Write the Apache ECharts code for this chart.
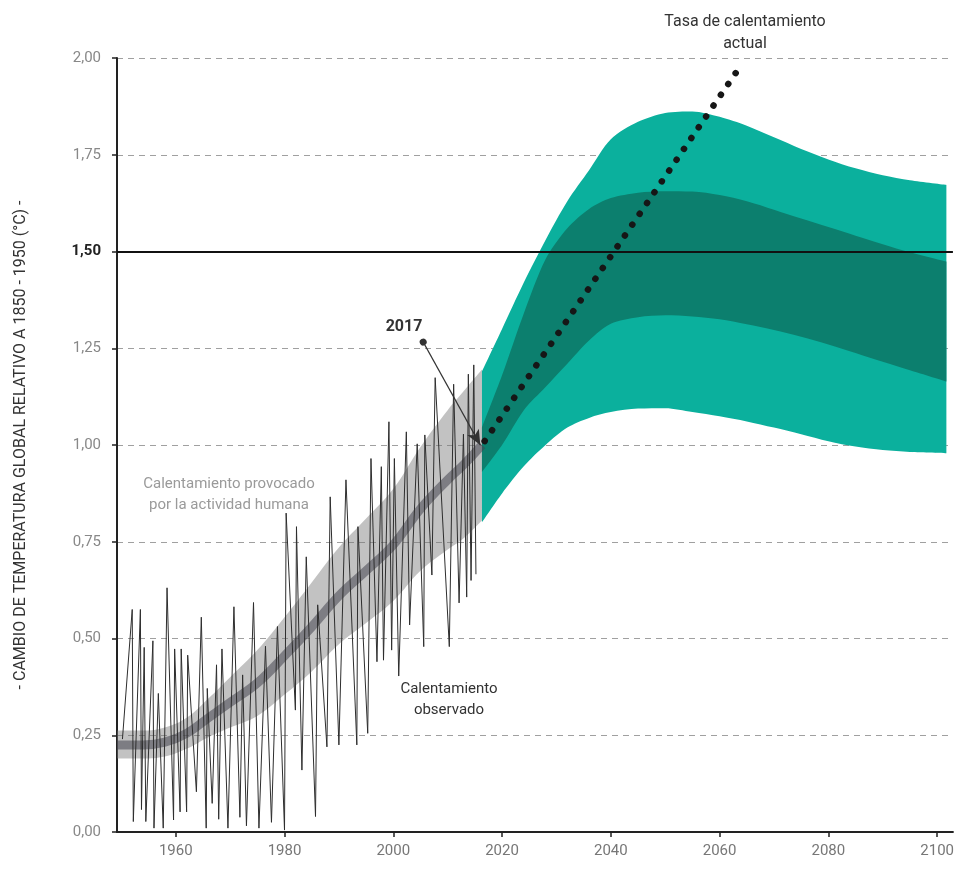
<!DOCTYPE html>
<html>
<head>
<meta charset="utf-8">
<script src="https://cdn.jsdelivr.net/npm/echarts@6/dist/echarts.min.js"></script>
<style>
html,body{margin:0;padding:0;background:#fff;}
#chart{width:957px;height:869px;}
</style>
</head>
<body>
<div id="chart"></div>
<script>
// ---- Data ----
const xTickValues = [1960, 1980, 2000, 2020, 2040, 2060, 2080, 2100];

// Observed warming (zig-zag vertices)
const obsYears = [1950.2,1952.0,1952.2,1953.5,1953.7,1954.2,1954.5,1955.8,1956.0,1956.8,1957.7,1958.4,1959.6,1959.8,1960.8,1961.0,1962.0,1962.2,1963.8,1964.7,1965.6,1965.8,1966.7,1967.5,1967.9,1968.5,1969.6,1970.7,1971.8,1972.3,1973.0,1974.3,1975.3,1976.5,1977.6,1978.7,1980.0,1980.3,1982.0,1982.2,1983.2,1984.0,1985.7,1986.1,1987.8,1988.4,1990.0,1991.3,1993.3,1993.5,1995.3,1995.9,1997.0,1997.8,1998.2,1999.2,1999.7,2000.2,2001.0,2002.4,2003.0,2004.4,2005.6,2005.8,2007.1,2007.7,2010.3,2011.1,2012.1,2012.9,2013.5,2013.8,2014.3,2014.8,2015.2];
const obsValues = [0.24,0.575,0.027,0.575,0.058,0.477,0.027,0.494,0.01,0.358,0.01,0.631,0.031,0.473,0.052,0.473,0.052,0.457,0.104,0.555,0.01,0.371,0.074,0.432,0.033,0.473,0.01,0.582,0.038,0.406,0.016,0.593,0.01,0.48,0.025,0.531,0.005,0.824,0.315,0.789,0.16,0.711,0.04,0.587,0.22,0.866,0.225,0.91,0.225,0.789,0.255,0.965,0.44,0.944,0.444,1.06,0.47,0.965,0.403,1.034,0.535,1.003,0.479,1.026,0.664,1.174,0.479,1.157,0.592,1.028,0.607,1.183,0.65,1.207,0.666];

// Human-induced warming band
const humanYears = [1949.2,1954,1958,1962,1966,1970,1975,1980,1985,1990,1995,2000,2005,2010,2013,2016.3];
const humanMid   = [0.225,0.225,0.232,0.255,0.295,0.335,0.385,0.455,0.53,0.61,0.675,0.742,0.835,0.91,0.95,1.0];
const humanHigh  = [0.262,0.262,0.27,0.295,0.345,0.40,0.47,0.555,0.645,0.735,0.81,0.887,0.995,1.09,1.14,1.195];
const humanLow   = [0.19,0.19,0.195,0.215,0.245,0.27,0.30,0.355,0.415,0.485,0.54,0.597,0.675,0.73,0.76,0.805];

// Projection bands (stabilising at 1.5 °C)
const projYears  = [2016.3,2020,2024,2028,2032,2036,2040,2045,2050,2055,2060,2065,2070,2075,2080,2085,2090,2095,2101.7];
const outerHigh  = [1.19,1.30,1.42,1.53,1.63,1.71,1.79,1.835,1.858,1.862,1.848,1.825,1.795,1.765,1.738,1.715,1.697,1.684,1.672];
const outerLow   = [0.80,0.875,0.945,1.0,1.045,1.07,1.085,1.094,1.095,1.085,1.074,1.061,1.045,1.028,1.01,0.996,0.987,0.982,0.979];
const innerHigh  = [1.045,1.18,1.34,1.48,1.56,1.61,1.638,1.652,1.656,1.655,1.646,1.630,1.608,1.585,1.563,1.541,1.519,1.498,1.474];
const innerLow   = [0.93,1.0,1.09,1.15,1.21,1.27,1.313,1.33,1.335,1.332,1.325,1.312,1.297,1.28,1.26,1.238,1.215,1.193,1.164];

// Current warming rate (dotted)
const rateYears  = [2016.8, 2063.1];
const rateValues = [1.01, 1.964];

const threshold = 1.5;
const arrowFrom = [2005.5, 1.266];
const arrowTo   = [2016.0, 1.0];

// ---- Build ----
const zip = (xs, ys) => xs.map((x, i) => [x, ys[i]]);
// value first, year second (so stacking applies to the value dimension)
const zipVY = (xs, ys) => xs.map((x, i) => [ys[i], x]);
const diffVY = (xs, hi, lo) => xs.map((x, i) => [+(hi[i] - lo[i]).toFixed(4), x]);

function band(name, xs, hi, lo, color, smooth) {
  return [
    { type: 'line', name: name + '_base', stack: name, data: zipVY(xs, lo), encode: { x: 1, y: 0 },
      symbol: 'none', smooth: smooth, lineStyle: { width: 0, opacity: 0 }, silent: true },
    { type: 'line', name: name, stack: name, data: diffVY(xs, hi, lo), encode: { x: 1, y: 0 },
      symbol: 'none', smooth: smooth, lineStyle: { width: 0, opacity: 0 },
      areaStyle: { color: color, opacity: 1 }, silent: true }
  ];
}

const FONT = 'Roboto, "Noto Sans", sans-serif';
const chart = echarts.init(document.getElementById('chart'), null, { renderer: 'canvas' });

const option = {
  animation: false,
  grid: { left: 117, right: 2, top: 58, bottom: 37, containLabel: false },
  xAxis: {
    type: 'value', min: 1949.2, max: 2102.9,
    axisLine: { show: true, lineStyle: { color: '#222', width: 2 } },
    axisTick: { show: true, customValues: xTickValues, length: 5, lineStyle: { color: '#222', width: 1.5 } },
    axisLabel: { customValues: xTickValues, color: '#777', fontSize: 15, fontFamily: FONT, margin: 12,
      formatter: v => String(v) },
    splitLine: { show: false }
  },
  yAxis: {
    type: 'value', min: 0, max: 2, interval: 0.25,
    name: '- CAMBIO DE TEMPERATURA GLOBAL RELATIVO A 1850 - 1950 (°C) -',
    nameLocation: 'middle', nameGap: 88, nameRotate: 90,
    nameTextStyle: { color: '#333', fontSize: 16, fontFamily: FONT },
    axisLine: { show: true, lineStyle: { color: '#222', width: 2 } },
    axisTick: { show: true, length: 5, lineStyle: { color: '#222', width: 1.5 } },
    axisLabel: {
      color: '#888', fontSize: 15, fontFamily: FONT, margin: 16,
      formatter: v => {
        const s = v.toFixed(2).replace('.', ',');
        return Math.abs(v - threshold) < 1e-9 ? '{b|' + s + '}' : s;
      },
      rich: { b: { fontWeight: 'bold', color: '#222', fontSize: 15, fontFamily: FONT } }
    },
    splitLine: { show: true, lineStyle: { color: '#a0a0a0', width: 1, type: [6, 5] } }
  },
  series: [
    ...band('outer', projYears, outerHigh, outerLow, '#0bb09d', 0.3),
    ...band('inner', projYears, innerHigh, innerLow, '#0c7f6e', 0.3),
    ...band('human', humanYears, humanHigh, humanLow, 'rgba(120,120,120,0.45)', 0.4),
    {
      type: 'line', name: 'humanMid', data: zip(humanYears, humanMid), symbol: 'none', smooth: 0.4,
      lineStyle: { color: 'rgba(70,70,80,0.55)', width: 9, cap: 'butt' }, silent: true,
      markLine: {
        silent: true, symbol: 'none', label: { show: false },
        lineStyle: { color: '#111', width: 2.2, type: 'solid' },
        data: [{ yAxis: threshold }]
      }
    },
    {
      type: 'line', name: 'observed', data: zip(obsYears, obsValues), symbol: 'none',
      lineStyle: { color: '#2e2e2e', width: 1 }, silent: true
    },
    {
      type: 'line', name: 'rate', data: zip(rateYears, rateValues), symbol: 'none',
      lineStyle: { color: '#161616', width: 6.5, type: [0.1, 13], cap: 'round' }, silent: true,
      markLine: {
        silent: true, label: { show: false },
        lineStyle: { color: '#333', width: 1.3, type: 'solid' },
        data: [[
          { coord: arrowFrom, symbol: 'circle', symbolSize: 7 },
          { coord: arrowTo, symbol: 'arrow', symbolSize: [10, 15] }
        ]]
      }
    }
  ],
  graphic: [
    { type: 'text', x: 745, y: 11, style: { text: 'Tasa de calentamiento\nactual', fill: '#333', font: '16px ' + FONT, align: 'center', lineHeight: 22 } },
    { type: 'text', x: 799, y: 259, style: { text: 'Rango de incertidumbre para\nestabilizar el calentamiento en 1,5°C', fill: '#ffffff', font: '15px ' + FONT, align: 'center', lineHeight: 21 } },
    { type: 'text', x: 229, y: 474, style: { text: 'Calentamiento provocado\npor la actividad humana', fill: '#9a9a9a', font: '15px ' + FONT, align: 'center', lineHeight: 21 } },
    { type: 'text', x: 449, y: 679, style: { text: 'Calentamiento\nobservado', fill: '#333', font: '15px ' + FONT, align: 'center', lineHeight: 21 } },
    { type: 'text', x: 404, y: 319, style: { text: '2017', fill: '#333', font: 'bold 16px ' + FONT, align: 'center' } }
  ]
};
chart.setOption(option);
</script>
</body>
</html>
